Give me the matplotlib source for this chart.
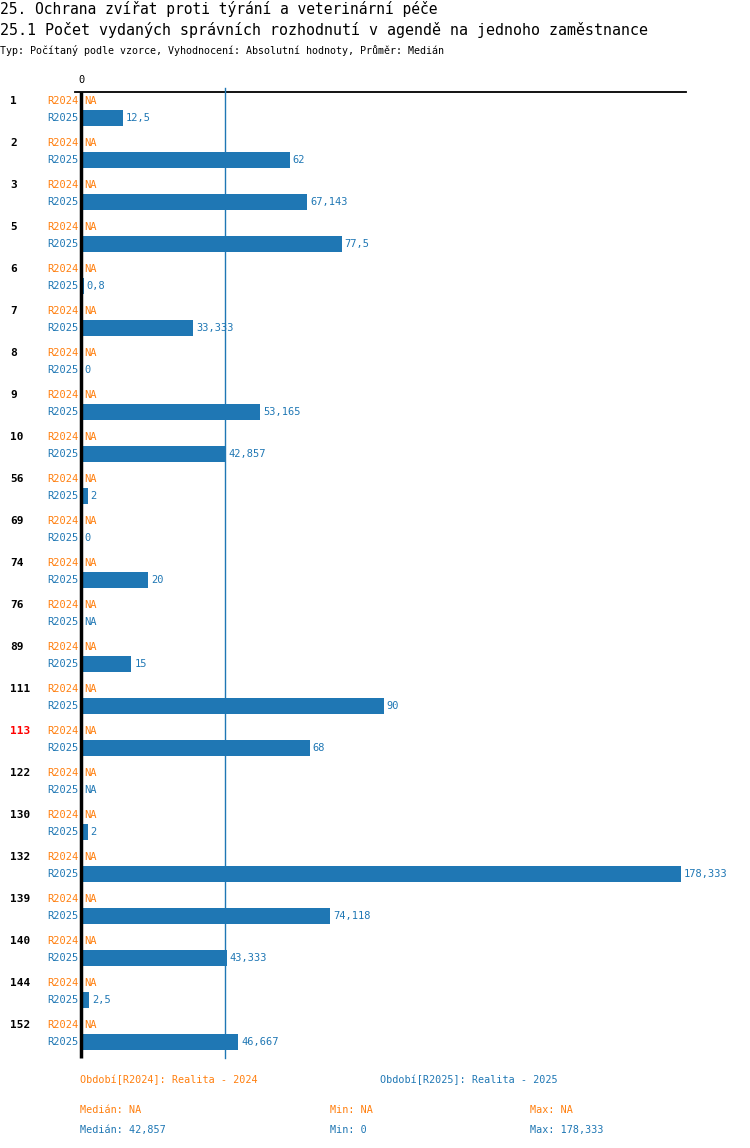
import matplotlib
matplotlib.use("Agg")
import matplotlib.pyplot as plt

plt.rcParams["font.family"] = ["DejaVu Sans Mono"]

# ---------------------------------------------------------------------------
# Data
# ---------------------------------------------------------------------------
GROUPS = ["1", "2", "3", "5", "6", "7", "8", "9", "10", "56", "69", "74", "76",
          "89", "111", "113", "122", "130", "132", "139", "140", "144", "152"]
HIGHLIGHT = "113"
R2024 = [None] * len(GROUPS)
R2025 = [12.5, 62, 67.143, 77.5, 0.8, 33.333, 0, 53.165, 42.857, 2, 0, 20, None,
         15, 90, 68, None, 2, 178.333, 74.118, 43.333, 2.5, 46.667]
SERIES = ["R2024", "R2025"]
MEDIAN_2025 = 42.857
MIN_2025 = 0
MAX_2025 = 178.333

TITLE = "25. Ochrana zvířat proti týrání a veterinární péče"
SUBTITLE = "25.1 Počet vydaných správních rozhodnutí v agendě na jednoho zaměstnance"
INFO = "Typ: Počítaný podle vzorce, Vyhodnocení: Absolutní hodnoty, Průměr: Medián"

ORANGE = "#ff7f0e"
BLUE = "#1f77b4"

W, H = 750, 1148
X0, X1 = 81, 681          # pixel span of 0 .. max value
GROUP_STEP, ROW_STEP, FIRST_Y = 42, 17, 101


def fmt(v):
    if v is None:
        return "NA"
    s = f"{v:.3f}".rstrip("0").rstrip(".")
    return s.replace(".", ",")


fig = plt.figure(figsize=(W / 100, H / 100), dpi=100)
ax = fig.add_axes([0, 0, 1, 1])
scale = (X1 - X0) / MAX_2025
ax.set_xlim(-X0 / scale, (W - X0) / scale)
ax.set_ylim(H, 0)
ax.axis("off")

def px(x):
    return (x - X0) / scale

# bars + labels
for g, name in enumerate(GROUPS):
    y24 = FIRST_Y + g * GROUP_STEP
    y25 = y24 + ROW_STEP
    ax.text(px(10), y24, name, ha="left", va="center", fontsize=8, fontweight="bold",
            color="red" if name == HIGHLIGHT else "black")
    for y, ser, vals, col in [(y24, SERIES[0], R2024, ORANGE), (y25, SERIES[1], R2025, BLUE)]:
        ax.text(px(78), y, ser, ha="right", va="center", fontsize=7.5, color=col)
        v = vals[g]
        if v is not None:
            ax.barh(y, v, height=16, left=0, color=col)
            end = v
        else:
            end = 0
        ax.text(end + px(84), y, fmt(v), ha="left", va="center", fontsize=7.5, color=col)

# axis lines
ax.plot([px(75), px(686)], [92, 92], color="black", lw=1.3)
ax.plot([0, 0], [92, 1058], color="black", lw=2.5, solid_capstyle="butt")
ax.plot([MEDIAN_2025, MEDIAN_2025], [88, 1058], color=BLUE, lw=1)
ax.text(0, 80, "0", ha="center", va="center", fontsize=7.5, color="black")

# titles
fig.text(0 / W, 1 - 9 / H, TITLE, ha="left", va="center", fontsize=10.5, color="black")
fig.text(0 / W, 1 - 30 / H, SUBTITLE, ha="left", va="center", fontsize=10.8, color="black")
fig.text(0 / W, 1 - 50 / H, INFO, ha="left", va="center", fontsize=7.2, color="black")

# footer
FS = 7.3
fig.text(80 / W, 1 - 1080 / H, "Období[R2024]: Realita - 2024", ha="left", va="center",
         fontsize=FS, color=ORANGE)
fig.text(380 / W, 1 - 1080 / H, "Období[R2025]: Realita - 2025", ha="left", va="center",
         fontsize=FS, color=BLUE)
fig.text(80 / W, 1 - 1110 / H, "Medián: NA", ha="left", va="center", fontsize=FS, color=ORANGE)
fig.text(330 / W, 1 - 1110 / H, "Min: NA", ha="left", va="center", fontsize=FS, color=ORANGE)
fig.text(530 / W, 1 - 1110 / H, "Max: NA", ha="left", va="center", fontsize=FS, color=ORANGE)
fig.text(80 / W, 1 - 1130 / H, f"Medián: {fmt(MEDIAN_2025)}", ha="left", va="center",
         fontsize=FS, color=BLUE)
fig.text(330 / W, 1 - 1130 / H, f"Min: {fmt(MIN_2025)}", ha="left", va="center",
         fontsize=FS, color=BLUE)
fig.text(530 / W, 1 - 1130 / H, f"Max: {fmt(MAX_2025)}", ha="left", va="center",
         fontsize=FS, color=BLUE)

fig.savefig("out.png", dpi=100)
